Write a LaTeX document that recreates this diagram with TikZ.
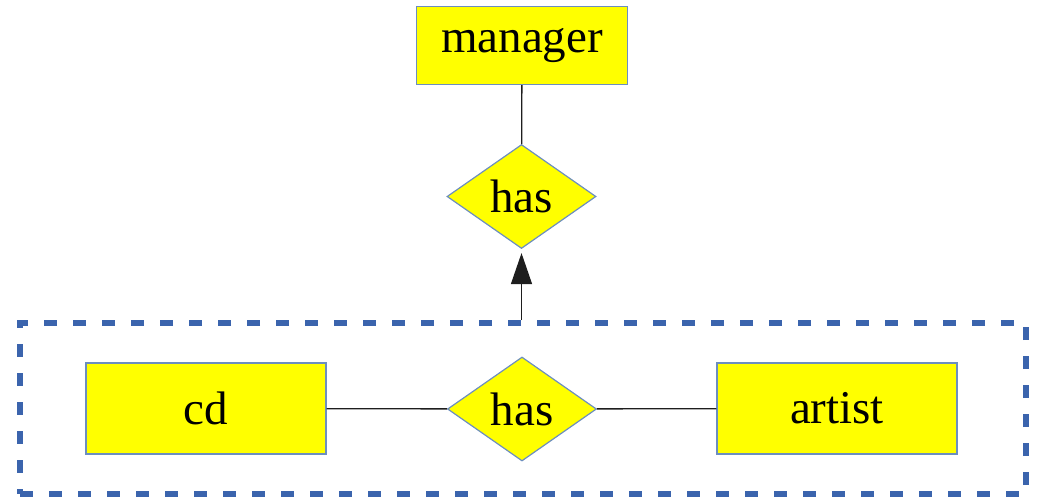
\documentclass[tikz,border=0pt]{standalone}
\usepackage{fontspec}
\setmainfont{Liberation Serif}
\usetikzlibrary{shapes.geometric,arrows.meta}
\definecolor{edgeblue}{RGB}{108,142,191}
\definecolor{groupblue}{RGB}{59,100,173}
\definecolor{linegray}{RGB}{30,30,30}
\definecolor{fillyellow}{RGB}{255,255,0}
\tikzset{
  entity/.style={draw=edgeblue, line width=1.2pt, fill=fillyellow, inner sep=0pt, font=\fontsize{47}{52}\selectfont},
  relation/.style={diamond, draw=edgeblue, line width=1.2pt, fill=fillyellow, inner sep=0pt, minimum width=149pt, minimum height=104pt, font=\fontsize{47}{52}\selectfont},
  groupbox/.style={draw=groupblue, line width=6pt, dash pattern=on 13pt off 16pt, inner sep=0pt},
  conn/.style={draw=linegray, line width=1.3pt}
}
\begin{document}
\begin{tikzpicture}[x=1pt,y=-1pt]
\useasboundingbox (0,0) rectangle (1038,499);
\node[groupbox, minimum width=1006pt, minimum height=171pt] (group) at (523,408.5) {};
\node[entity, minimum width=211pt, minimum height=78pt] (manager) at (522,45.5) {manager};
\node[relation] (has1) at (521.5,196.5) {has};
\node[entity, minimum width=240pt, minimum height=91pt] (cd) at (206,408.5) {cd};
\node[relation] (has2) at (522,409) {has};
\node[entity, minimum width=240pt, minimum height=91pt] (artist) at (837,408.5) {artist};
\draw[conn] (manager) -- (has1);
\draw[conn] (cd) -- (has2);
\draw[conn] (has2) -- (artist);
\draw[conn, -{Triangle[width=21pt,length=31pt]}, shorten >=4pt] (has1 |- group.north) -- (has1.south);
\end{tikzpicture}
\end{document}
